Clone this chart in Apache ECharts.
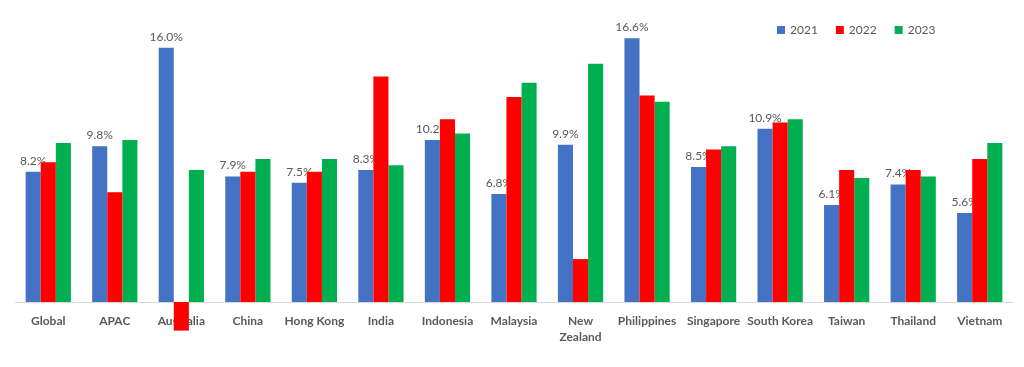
<!DOCTYPE html>
<html><head><meta charset="utf-8">
<script src="https://cdn.jsdelivr.net/npm/echarts@6/dist/echarts.min.js"></script>
<style>html,body{margin:0;padding:0;background:#fff}#c{width:1024px;height:367px}</style>
</head><body><div id="c"></div>
<script>
const categories = ['Global','APAC','Australia','China','Hong Kong','India','Indonesia','Malaysia','New\nZealand','Philippines','Singapore','South Korea','Taiwan','Thailand','Vietnam'];
const s2021 = [8.2, 9.8, 16.0, 7.9, 7.5, 8.3, 10.2, 6.8, 9.9, 16.6, 8.5, 10.9, 6.1, 7.4, 5.6];
const s2022 = [8.8, 6.9, -1.8, 8.2, 8.2, 14.2, 11.5, 12.9, 2.7, 13.0, 9.6, 11.3, 8.3, 8.3, 9.0];
const s2023 = [10.0, 10.2, 8.3, 9.0, 9.0, 8.6, 10.6, 13.8, 15.0, 12.6, 9.8, 11.5, 7.8, 7.9, 10.0];
const seriesNames = ['2021','2022','2023'];
const colors = ['#4472C4','#FF0000','#00B050'];

const chart = echarts.init(document.getElementById('c'), null, {renderer:'canvas'});
const font = 'Lato, "Open Sans", sans-serif';
chart.setOption({
  animation: false,
  color: colors,
  textStyle: {fontFamily: font},
  legend: {
    data: seriesNames, left: 772, top: 19, itemWidth: 8, itemHeight: 8, itemGap: 18,
    icon: 'rect',
    textStyle: {color:'#595959', fontSize: 12, fontFamily: font}
  },
  grid: {left: 15, right: 11, top: 16, bottom: 65, containLabel: false, outerBoundsMode: 'none'},
  xAxis: {
    type: 'category', data: categories,
    axisLine: {lineStyle: {color:'#D9D9D9', width: 1}},
    axisTick: {show: false},
    axisLabel: {color:'#595959', fontWeight:'bold', fontSize: 12, margin: 11, interval: 0, lineHeight: 16, fontFamily: font}
  },
  yAxis: {
    type: 'value', min: 0, max: 18, show: false,
    splitLine: {show: false}
  },
  series: [
    {name: seriesNames[0], type:'bar', data: s2021, barGap: '0%', barCategoryGap: '32%', clip: false,
     label: {show: true, position: 'top', distance: 5, color:'#595959', fontSize: 12, fontFamily: font,
       formatter: p => p.value.toFixed(1) + '%'}},
    {name: seriesNames[1], type:'bar', data: s2022, barGap: '0%', barCategoryGap: '32%', clip: false, z: 5},
    {name: seriesNames[2], type:'bar', data: s2023, barGap: '0%', barCategoryGap: '32%', clip: false}
  ]
});
</script></body></html>
